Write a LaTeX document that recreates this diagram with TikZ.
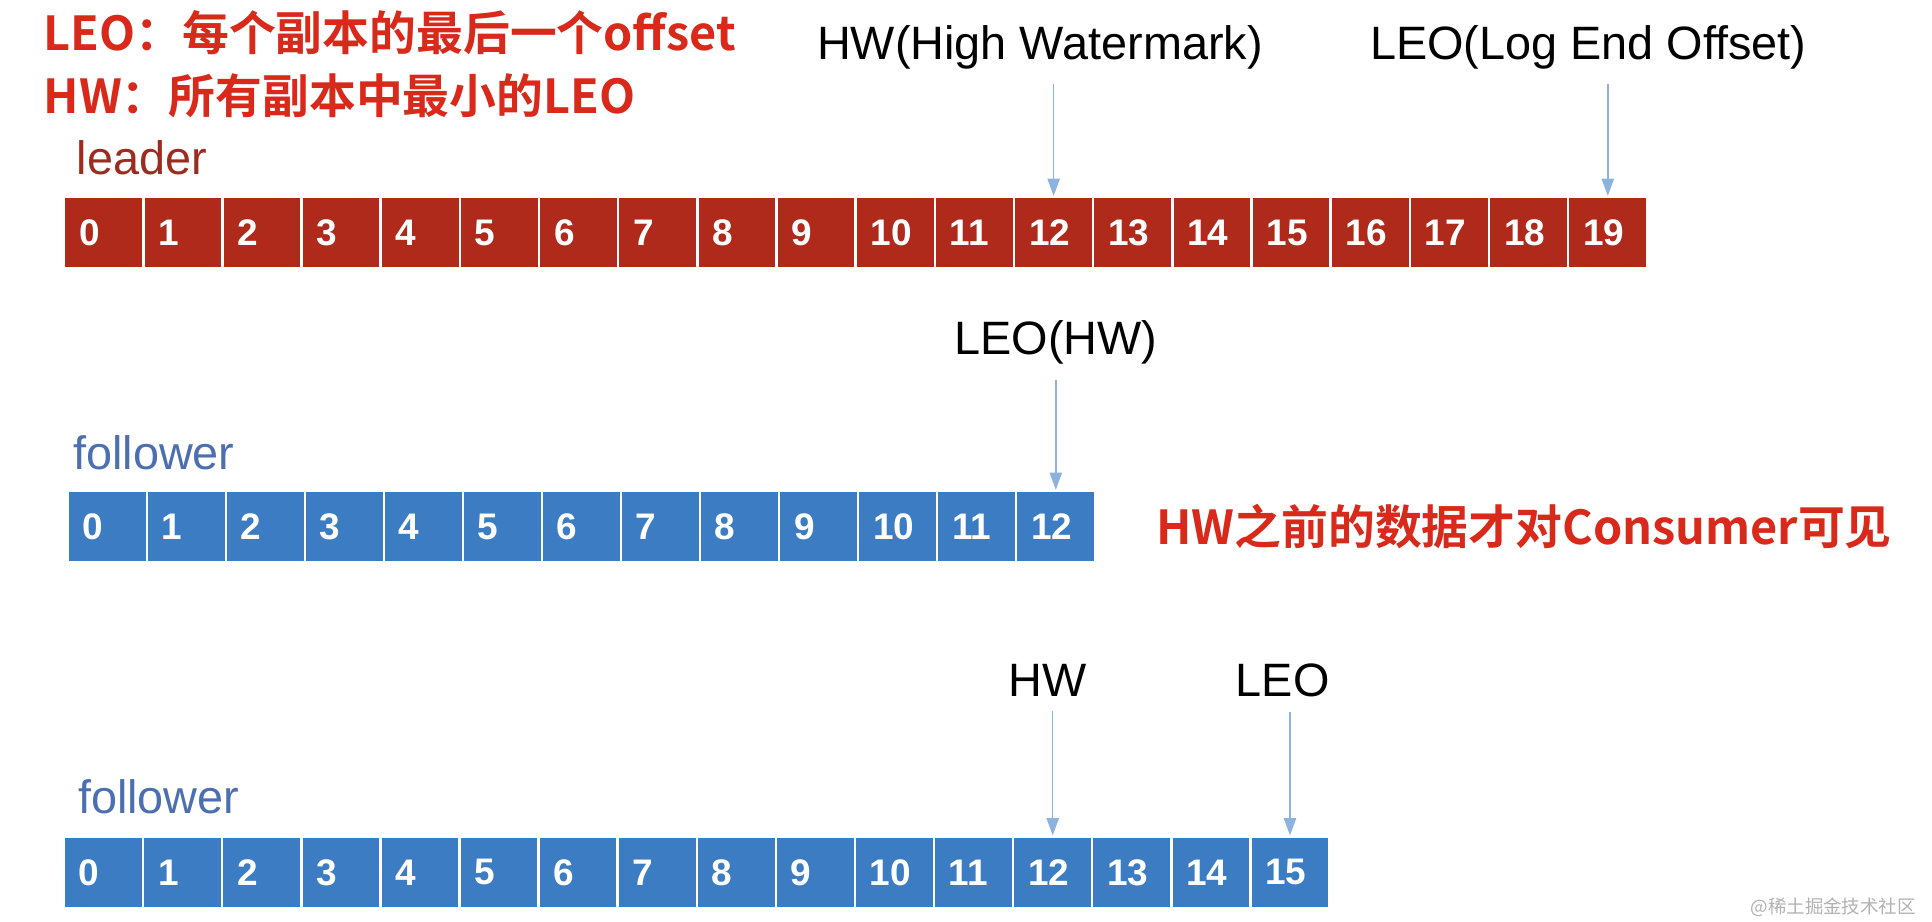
\documentclass[tikz,border=0pt]{standalone}
\usepackage{fontspec}
\setmainfont{Liberation Sans}
\newfontfamily\cjk{Noto Sans CJK SC Bold}
\newfontfamily\cjkmark{Noto Sans CJK SC}
\usetikzlibrary{arrows.meta}
\definecolor{leaderred}{HTML}{B02A1C}
\definecolor{labelred}{HTML}{9C2B20}
\definecolor{followblue}{HTML}{3C7CC3}
\definecolor{labelblue}{HTML}{4C6FB0}
\definecolor{notered}{HTML}{D8291B}
\definecolor{ptrblue}{HTML}{8CB2DE}
\begin{document}
\begin{tikzpicture}[x=0.5pt,y=-0.5pt,
  cell/.style={draw=white,line width=1pt,minimum width=32.1pt,minimum height=29pt,inner xsep=6pt,text width=20pt,align=left,text=white,font=\bfseries\fontsize{15}{15}\selectfont},
  lcell/.style={cell,fill=leaderred},
  fcell/.style={cell,fill=followblue},
  ptr/.style={ptrblue,line width=0.6pt,shorten <=4pt,-{Triangle[width=5pt,length=7pt]}},
  tag/.style={font=\fontsize{19}{19}\selectfont,inner sep=2pt},
  note/.style={notered,font=\cjk\fontsize{19}{19}\selectfont,anchor=base west,inner sep=0pt}]
			\useasboundingbox (0,0) rectangle (1568,748);
			\foreach \i in {0,...,19}
				\node[lcell] (l\i) at ({52+64.25*(\i+0.5)},189) {\i};
			\foreach \i in {0,...,12}
				\node[fcell] (f\i) at ({55+64.15*(\i+0.5)},427.5) {\i};
			\foreach \i in {0,...,15}
				\node[fcell] (g\i) at ({52+64.19*(\i+0.5)},708) {\i};
			\node (leodef) [note] at (35,41) {LEO：每个副本的最后一个offset};
			\node (hwdef) [note] at (35,92) {HW：所有副本中最小的LEO};
			\node (visible) [note] at (938,442) {HW之前的数据才对Consumer可见};
			\node (leader) [tag,labelred,anchor=base west] at (58,142) {leader};
			\node (follower) [tag,labelblue,anchor=base west] at (55,381) {follower};
			\node (follower2) [tag,labelblue,anchor=base west] at (59,660) {follower};
			\node (hw) [tag,anchor=base] at (844,48) {HW(High Watermark)};
			\node (leo) [tag,anchor=base] at (1289,48) {LEO(Log End Offset)};
			\node (leohw) [tag,anchor=base] at (857,288) {LEO(HW)};
			\node (hw2) [tag,anchor=base] at (850,565) {HW};
			\node (leo2) [tag,anchor=base] at (1041,565) {LEO};
			\node (site) [gray!60,font=\cjkmark\fontsize{7.5}{7.5}\selectfont,anchor=base east] at (1562,741) {@稀土掘金技术社区};
			\draw[ptr] (hw.south -| l12.north) -- (l12.north);
			\draw[ptr] (leo.south -| l19.north) -- (l19.north);
			\draw[ptr] (leohw.south -| f12.north) -- (f12.north);
			\draw[ptr] (hw2.south -| g12.north) -- (g12.north);
			\draw[ptr] (leo2.south -| g15.north) -- (g15.north);
		\end{tikzpicture}
\end{document}
